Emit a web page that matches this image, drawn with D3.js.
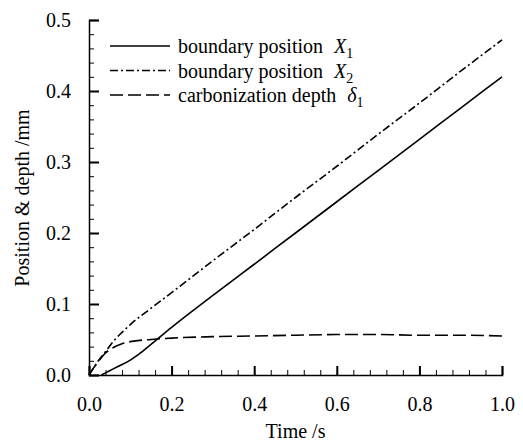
<!DOCTYPE html>
<html>
<head>
<meta charset="utf-8">
<script src="https://cdn.jsdelivr.net/npm/d3@7"></script>
<style>
  body { margin: 0; background: #fff; }
</style>
</head>
<body>
<svg id="chart" width="523" height="444"></svg>
<script>
// values
const timeX1 = [0.03, 0.05, 0.07, 0.1, 0.12, 0.15, 0.2, 0.3, 0.4, 0.5, 0.6, 0.7, 0.8, 0.9, 1.0];
const posX1 = [0, 0.006, 0.012, 0.021, 0.029, 0.043, 0.067, 0.112, 0.156, 0.2, 0.244, 0.288, 0.332, 0.376, 0.42];

const timeX2 = [0, 0.01, 0.02, 0.04, 0.06, 0.08, 0.1, 0.15, 0.2, 0.3, 0.4, 0.5, 0.6, 0.7, 0.8, 0.9, 1.0];
const posX2 = [0, 0.009, 0.018, 0.033, 0.048, 0.06, 0.071, 0.094, 0.116, 0.161, 0.205, 0.25, 0.294, 0.339, 0.383, 0.428, 0.472];

const timeD1 = [0, 0.01, 0.02, 0.04, 0.06, 0.08, 0.1, 0.15, 0.2, 0.3, 0.4, 0.5, 0.6, 0.7, 0.8, 0.9, 1.0];
const depthD1 = [0, 0.009, 0.017, 0.031, 0.039, 0.044, 0.047, 0.05, 0.052, 0.054, 0.055, 0.056, 0.057, 0.057, 0.056, 0.056, 0.055];

const xTicks = [0, 0.2, 0.4, 0.6, 0.8, 1.0];
const yTicks = [0, 0.1, 0.2, 0.3, 0.4, 0.5];

const series = [
  { label: 'boundary position ', sym: 'X', sub: '1', t: timeX1, v: posX1, dash: null },
  { label: 'boundary position ', sym: 'X', sub: '2', t: timeX2, v: posX2, dash: '8,3,2,3' },
  { label: 'carbonization depth ', sym: 'δ', sub: '1', t: timeD1, v: depthD1, dash: '13,5' }
];

const font = 'Liberation Serif, Times New Roman, serif';

const margin = { top: 20, right: 21, bottom: 69, left: 89 },
  width = 523 - margin.left - margin.right,
  height = 444 - margin.top - margin.bottom;

const svg = d3.select('#chart')
  .append('g')
  .attr('transform', `translate(${margin.left},${margin.top})`);

const x = d3.scaleLinear().domain([0, 1]).range([0, width]);
const y = d3.scaleLinear().domain([0, 0.5]).range([height, 0]);

// minor ticks first, then major ticks with labels
svg.append('g')
  .attr('transform', `translate(0,${height})`)
  .call(d3.axisBottom(x).tickValues(d3.range(0, 1.001, 0.04)).tickSize(-5).tickFormat(''))
  .call(g => g.select('.domain').remove());
svg.append('g')
  .call(d3.axisLeft(y).tickValues(d3.range(0, 0.501, 0.02)).tickSize(-5).tickFormat(''))
  .call(g => g.select('.domain').remove());

svg.append('g')
  .attr('transform', `translate(0,${height})`)
  .call(d3.axisBottom(x).tickValues(xTicks).tickSize(-9).tickPadding(22).tickFormat(d3.format('.1f')))
  .call(g => g.selectAll('.tick line').attr('stroke-width', 2))
  .call(g => g.select('.domain').attr('stroke-width', 1.5))
  .call(g => g.selectAll('text').attr('font-size', 20).attr('font-family', font));

svg.append('g')
  .call(d3.axisLeft(y).tickValues(yTicks).tickSize(-10).tickPadding(18).tickFormat(d3.format('.1f')))
  .call(g => g.selectAll('.tick line').attr('stroke-width', 2))
  .call(g => g.select('.domain').attr('stroke-width', 1.5))
  .call(g => g.selectAll('text').attr('font-size', 20).attr('font-family', font));

svg.selectAll('.tick line').attr('stroke', '#000');

// axis titles
svg.append('text')
  .attr('x', width / 2).attr('y', height + 63)
  .attr('text-anchor', 'middle').attr('font-size', 20).attr('font-family', font)
  .text('Time /s');

svg.append('text')
  .attr('transform', 'rotate(-90)')
  .attr('x', -178).attr('y', -60)
  .attr('text-anchor', 'middle').attr('font-size', 20).attr('font-family', font)
  .text('Position & depth /mm');

const line = d3.line()
  .x(d => x(d[0]))
  .y(d => y(d[1]))
  .curve(d3.curveMonotoneX);

series.forEach(s => {
  svg.append('path')
    .datum(s.t.map((t, i) => [t, s.v[i]]))
    .attr('fill', 'none')
    .attr('stroke', '#000')
    .attr('stroke-width', 1.6)
    .attr('stroke-dasharray', s.dash)
    .attr('d', line);
});

// legend
const legend = svg.append('g').attr('transform', 'translate(21,26)');
series.forEach((s, i) => {
  const row = legend.append('g').attr('transform', `translate(0,${i * 24.5})`);
  row.append('line')
    .attr('x1', 0).attr('x2', 60)
    .attr('stroke', '#000').attr('stroke-width', 1.6)
    .attr('stroke-dasharray', s.dash);
  const t = row.append('text').attr('x', 68).attr('y', 7)
    .attr('font-size', 20).attr('font-family', font);
  t.append('tspan').text(s.label);
  t.append('tspan').attr('dx', 6).attr('font-style', 'italic').text(s.sym);
  t.append('tspan').attr('dy', 5).attr('font-size', 14).text(s.sub);
});
</script>
</body>
</html>
